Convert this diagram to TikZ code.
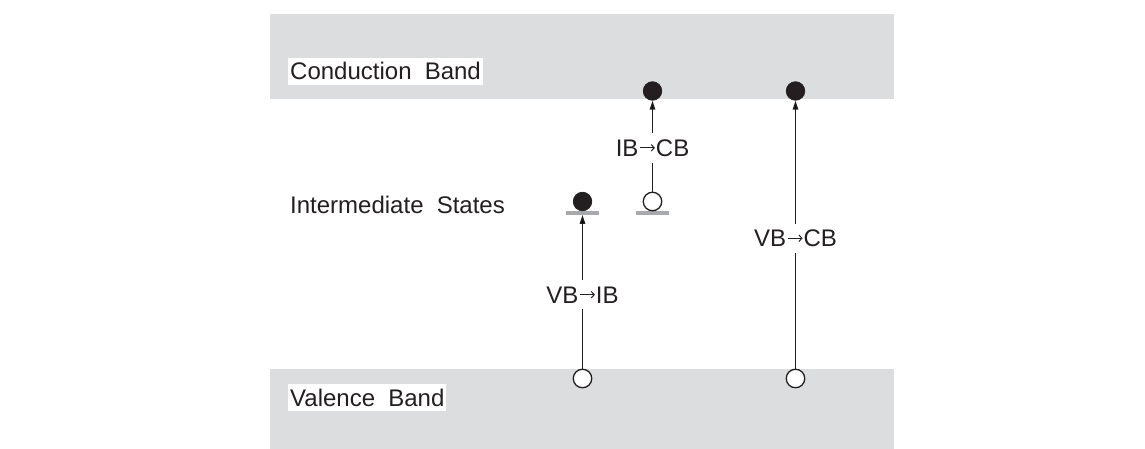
\documentclass[tikz,border=0pt]{standalone}
\usepackage{fontspec}
\setmainfont{Liberation Sans}
\usetikzlibrary{arrows.meta}
\definecolor{bandgray}{HTML}{DCDDDF}
\definecolor{bargray}{HTML}{A7A9AC}
\definecolor{ink}{HTML}{231F20}
\newcommand{\wsp}{\hspace{0.55em}}
\newcommand{\trarrow}{\kern1pt\tikz[baseline=0pt]{\draw[ink, line width=1pt, -{Straight Barb[length=3pt,width=6.5pt]}] (0pt,8.4pt) -- (15pt,8.4pt);}\kern0.5pt}
\begin{document}
\begin{tikzpicture}[x=1pt,y=-1pt,
  txt/.style={font=\fontsize{24}{28}\selectfont, inner sep=0pt, text=ink},
  bandlabel/.style={txt, fill=white, inner xsep=2pt, inner ysep=5pt, anchor=base west},
  electron/.style={circle, fill=ink, draw=ink, line width=0.8pt, minimum size=18.5pt, inner sep=0pt},
  hole/.style={circle, fill=white, draw=ink, line width=1.3pt, minimum size=18.5pt, inner sep=0pt},
  level/.style={rectangle, fill=bargray, minimum width=33pt, minimum height=3.5pt, inner sep=0pt},
  transition/.style={draw=ink, line width=1.3pt, -{Triangle[length=9pt,width=5.5pt]}},
  translabel/.style={txt, fill=white, inner xsep=1pt, inner ysep=6.3pt}
]
\useasboundingbox (0,0) rectangle (1145,449);
% bands
\fill[bandgray] (270,14) rectangle (894,99.5);
\fill[bandgray] (270,369) rectangle (894,449);
% labels
\node[bandlabel] (cblabel) at (288,80) {Conduction\wsp Band};
\node[bandlabel] (vblabel) at (288,406) {Valence\wsp Band};
\node[txt, anchor=base west] (islabel) at (290,214) {Intermediate\wsp States};
% intermediate levels
\node[level] (bar1) at (582.5,213) {};
\node[level] (bar2) at (652.5,213) {};
% carriers
\node[electron] (cbe1) at (652.5,91) {};
\node[electron] (cbe2) at (795.5,91) {};
\node[electron] (ibe) at (582.5,201.5) {};
\node[hole] (ibh) at (652.5,201.5) {};
\node[hole] (vbh1) at (582.5,378.5) {};
\node[hole] (vbh2) at (795.5,378.5) {};
% transitions
\draw[transition] (vbh1) -- (bar1) node[translabel, pos=0.48] (t1) {VB\trarrow IB};
\draw[transition] (ibh) -- (cbe1) node[translabel, pos=0.48] (t2) {IB\trarrow CB};
\draw[transition] (vbh2) -- (cbe2) node[translabel, pos=0.486] (t3) {VB\trarrow CB};
\end{tikzpicture}
\end{document}
